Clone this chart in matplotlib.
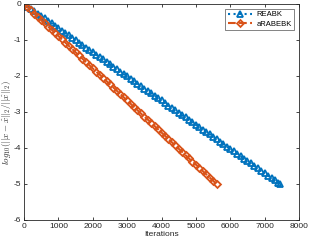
import matplotlib
matplotlib.use("Agg")
import matplotlib.pyplot as plt

iters_reabk = [0, 100, 200, 300, 400, 500, 600, 700, 800, 900, 1000, 1100, 1200, 1300, 1400,
               1500, 1600, 1700, 1800, 1900, 2000, 2100, 2200, 2300, 2400, 2500, 2600, 2700,
               2800, 2900, 3000, 3100, 3200, 3300, 3400, 3500, 3600, 3700, 3800, 3900, 4000,
               4100, 4200, 4300, 4400, 4500, 4600, 4700, 4800, 4900, 5000, 5100, 5200, 5300,
               5400, 5500, 5600, 5700, 5800, 5900, 6000, 6100, 6200, 6300, 6400, 6500, 6600,
               6700, 6800, 6900, 7000, 7100, 7200, 7300, 7400, 7450]
err_reabk = [0.00, -0.07, -0.13, -0.20, -0.27, -0.34, -0.40, -0.47, -0.54, -0.60, -0.67, -0.74,
             -0.81, -0.87, -0.94, -1.01, -1.07, -1.14, -1.21, -1.28, -1.34, -1.41, -1.48, -1.54,
             -1.61, -1.68, -1.74, -1.81, -1.88, -1.95, -2.01, -2.08, -2.15, -2.21, -2.28, -2.35,
             -2.42, -2.48, -2.55, -2.62, -2.68, -2.75, -2.82, -2.89, -2.95, -3.02, -3.09, -3.15,
             -3.22, -3.29, -3.36, -3.42, -3.49, -3.56, -3.62, -3.69, -3.76, -3.83, -3.89, -3.96,
             -4.03, -4.09, -4.16, -4.23, -4.30, -4.36, -4.43, -4.50, -4.56, -4.63, -4.70, -4.77,
             -4.83, -4.90, -4.97, -5.00]

iters_arabebk = [0, 100, 200, 300, 400, 500, 600, 700, 800, 900, 1000, 1100, 1200, 1300, 1400,
                 1500, 1600, 1700, 1800, 1900, 2000, 2100, 2200, 2300, 2400, 2500, 2600, 2700,
                 2800, 2900, 3000, 3100, 3200, 3300, 3400, 3500, 3600, 3700, 3800, 3900, 4000,
                 4100, 4200, 4300, 4400, 4500, 4600, 4700, 4800, 4900, 5000, 5100, 5200, 5300,
                 5400, 5500, 5600]
err_arabebk = [0.00, -0.09, -0.18, -0.27, -0.36, -0.45, -0.54, -0.63, -0.71, -0.80, -0.89, -0.98,
               -1.07, -1.16, -1.25, -1.34, -1.43, -1.52, -1.61, -1.70, -1.79, -1.88, -1.96, -2.05,
               -2.14, -2.23, -2.32, -2.41, -2.50, -2.59, -2.68, -2.77, -2.86, -2.95, -3.04, -3.13,
               -3.21, -3.30, -3.39, -3.48, -3.57, -3.66, -3.75, -3.84, -3.93, -4.02, -4.11, -4.20,
               -4.29, -4.38, -4.46, -4.55, -4.64, -4.73, -4.82, -4.91, -5.00]

labels = ["REABK", "aRABEBK"]
xticks = [0, 1000, 2000, 3000, 4000, 5000, 6000, 7000, 8000]
yticks = [0, -1, -2, -3, -4, -5, -6]

blue = "#0072BD"
orange = "#D95319"
axcol = "#262626"

plt.rcParams['font.family'] = ['Liberation Sans', 'DejaVu Sans']
plt.rcParams['mathtext.fontset'] = 'cm'

fig = plt.figure(figsize=(3.09, 2.46), dpi=100)
ax = fig.add_axes([24/309, 1 - 220/246, 275/309, 216/246])

ax.plot(iters_reabk, err_reabk, linestyle=':', color=blue, linewidth=1.5,
        marker='^', markersize=5, markerfacecolor='none', markeredgewidth=1.3, label=labels[0])
ax.plot(iters_arabebk, err_arabebk, linestyle='--', color=orange, linewidth=1.5,
        marker='D', markersize=3.5, markerfacecolor='none', markeredgewidth=1.3, label=labels[1])

ax.set_xlim(0, 8000)
ax.set_ylim(-6, 0)
ax.set_xticks(xticks)
ax.set_yticks(yticks)
ax.set_xticklabels([str(t) for t in xticks])
ax.set_yticklabels([str(t) for t in yticks])
ax.tick_params(direction='in', top=True, right=True, length=2.5, width=0.6,
               labelsize=6, colors=axcol, pad=2)
for s in ax.spines.values():
    s.set_linewidth(0.6)
    s.set_color(axcol)

ax.set_xlabel("Iterations", fontsize=6, color=axcol, labelpad=1)
ax.set_ylabel(r"$log_{10}(||x-\hat{x}||_2/||\hat{x}||_2)$", fontsize=6.5, color=axcol)
ax.yaxis.set_label_coords(-0.04, 0.45)

leg = ax.legend(loc='upper right', fontsize=5.5, frameon=True, fancybox=False,
                edgecolor=axcol, handlelength=3.2, borderpad=0.3, labelspacing=0.3,
                handletextpad=0.6, borderaxespad=0.6)
leg.get_frame().set_linewidth(0.5)

fig.savefig("out.png", dpi=100)
